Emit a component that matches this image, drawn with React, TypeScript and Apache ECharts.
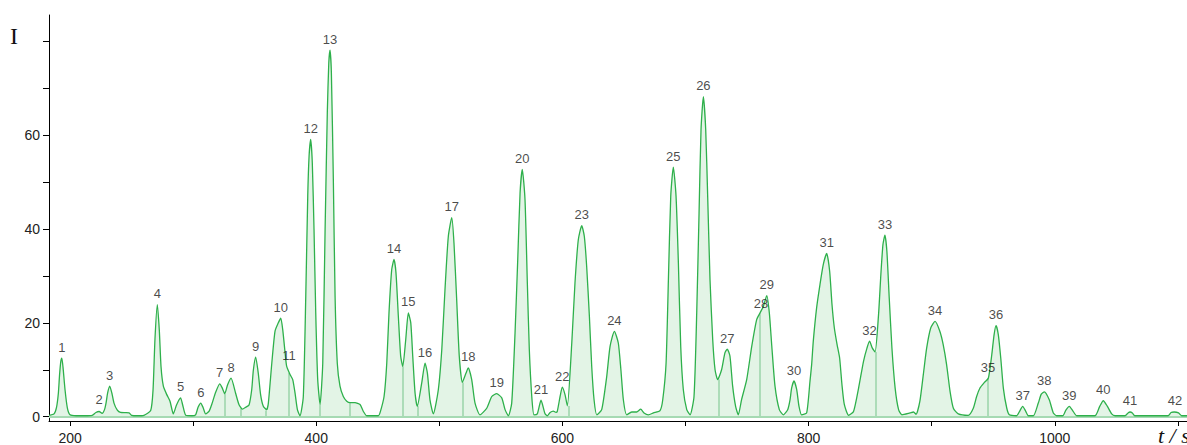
import React, { useEffect, useRef } from "react";
import * as echarts from "echarts";

// retention time (s) and detector intensity
const timeS = [
  183, 187, 189, 190.5, 191.5, 192.5, 193.3, 194.3, 195.9, 197.8, 200, 205, 212, 218, 221, 223.6, 226, 228, 229.3, 230.5,
  232.2, 234, 235.7, 238.4, 241, 245, 248, 250, 255, 260, 265.5, 267.4, 269, 270.9, 272.5, 273.9, 275.8, 278.6, 281.2, 283.9,
  286.5, 289.8, 291.5, 294, 299, 302, 304, 306.2, 308, 310.2, 313, 315.6, 318, 321.6, 323.5, 325.7, 328, 330.8, 334.5, 337.2,
  340, 342.7, 345.4, 347.6, 348.9, 350.8, 352.9, 354.8, 357, 359.7, 361.1, 363.9, 366.5, 369.2, 371.2, 372.8, 374.7, 376,
  378.7, 380.9, 382.8, 384.7, 386.8, 389.5, 391.5, 393.1, 394.2, 395.5, 396.8, 398.2, 399.6, 401.2, 403.1, 405.3, 407.2, 409,
  410.2, 411.2, 412.3, 413.9, 415.3, 417.1, 419.3, 422, 424.8, 427.5, 431.5, 435.6, 438.3, 441, 450.5, 451.8, 455.1, 457.3,
  459.1, 461.3, 463.2, 464.8, 466.7, 468.6, 470.3, 472.7, 474.8, 476.8, 478.4, 480.3, 482.1, 485.7, 488.4, 490.3, 492.4, 495.1,
  499.2, 502, 504.6, 507.3, 510.1, 511.9, 514.1, 516.2, 518.7, 521.7, 523.5, 526.3, 529, 533, 538.5, 542.6, 546.6, 550.7,
  553.4, 556.1, 558.8, 561.5, 563.7, 565.6, 567.4, 569.6, 571.5, 573.1, 575.1, 576.9, 579.6, 582.6, 585.9, 587.8, 590, 592.6,
  594.8, 595.8, 598.1, 599.9, 602.1, 604, 607.6, 610.2, 612.9, 615.7, 617.8, 619.7, 621.9, 623.8, 625.7, 627.9, 631.9, 636,
  638.7, 642.2, 645.4, 647.5, 649.5, 652.2, 656.3, 660.3, 663.6, 666.3, 669.8, 673.9, 679.3, 681.5, 684.2, 686.1, 688, 690.1,
  692.3, 694.2, 696.1, 698.2, 701, 703.7, 706.9, 709.1, 711, 712.6, 714.5, 716.4, 718, 719.9, 722.1, 724, 726.1, 729.3, 732,
  733.9, 736.1, 738.3, 740.7, 742.9, 745.5, 749.7, 753.8, 757.8, 760.5, 763.2, 766, 768.1, 770.1, 772.7, 776.2, 779.5, 783,
  784.9, 786.2, 788.1, 790.3, 792.2, 794.3, 798.4, 801.1, 802.5, 803.8, 806.5, 809.2, 811.9, 814.7, 817.1, 819, 820.9, 823.1,
  825.2, 827.1, 829, 832.5, 836.5, 840.6, 844.6, 847.4, 849.5, 851.8, 854, 856.8, 858.7, 860.4, 862, 863.6, 865.5, 867.7,
  870.3, 873.1, 875.8, 882.4, 885.2, 887.3, 890.4, 893.2, 895.9, 899.2, 902.7, 906.6, 909.3, 912.1, 914.9, 917.6, 921.6, 929.7,
  933.8, 936.5, 939.2, 942.5, 946, 948.8, 950.7, 952.3, 954.1, 956.1, 958.2, 961, 963.1, 969, 971.5, 973.9, 976.3, 978.5,
  982.6, 986.6, 989, 991.5, 995.5, 998.8, 1001.5, 1006.4, 1009, 1011.8, 1014.5, 1017.8, 1032.7, 1036.5, 1039.4, 1042.5, 1046.2,
  1049, 1057, 1059.5, 1061.1, 1063, 1065, 1092, 1094.5, 1097, 1100.5, 1103, 1107.5,
];
const intensity = [
  0.3, 0.6, 2.0, 5.0, 9.0, 11.8, 12.5, 10.5, 5.8, 1.9, 0.4, 0.2, 0.2, 0.3, 0.9, 1.1, 0.7, 1.5, 3.0, 5.0,
  6.5, 5.0, 2.9, 1.4, 0.9, 0.85, 0.8, 0.3, 0.2, 0.3, 1.3, 5.6, 16.6, 23.9, 18.5, 10.7, 6.5, 4.7, 3.3, 0.6,
  2.5, 4.0, 2.5, 0.3, 0.2, 0.4, 2.0, 2.9, 2.0, 0.6, 1.2, 3.0, 5.0, 7.0, 6.2, 4.9, 6.8, 8.2, 5.0, 2.6,
  1.6, 2.0, 2.5, 5.8, 9.9, 12.7, 9.3, 4.7, 2.2, 1.5, 2.9, 11.4, 18.2, 20.0, 21.0, 18.5, 13.6, 10.7,
  9.0, 7.9, 5.0, 1.5, 0.2, 4.3, 25.7, 47.0, 55.6, 59.1, 54.1, 39.9, 22.1, 7.9, 2.6, 11.4, 39.9, 64.8,
  75.4, 78.1, 73.3, 50.5, 25.7, 11.4, 6.5, 4.3, 3.3, 3.0, 3.0, 2.6, 1.1, 0.2, 0.2, 0.8, 4.3, 11.4,
  22.1, 31.3, 33.5, 30.6, 21.4, 12.9, 10.7, 16.4, 22.1, 20.0, 12.9, 5.0, 2.2, 7.2, 11.4, 9.3, 3.6, 0.6,
  5.8, 14.3, 27.1, 38.4, 42.4, 37.0, 24.9, 12.9, 7.3, 9.3, 10.4, 7.9, 2.9, 0.4, 1.8, 4.3, 4.9, 4.0,
  1.5, 0.2, 2.9, 17.8, 33.5, 47.7, 52.7, 46.3, 28.5, 14.3, 4.3, 0.4, 0.6, 3.5, 0.6, 0.2, 0.9, 1.2,
  0.9, 1.1, 4.3, 6.3, 4.7, 2.3, 15.7, 28.5, 37.7, 40.7, 38.4, 32.0, 21.4, 10.7, 3.6, 0.4, 1.5, 8.6,
  15.0, 18.2, 15.7, 10.0, 3.6, 0.4, 1.0, 1.0, 1.6, 0.8, 0.4, 0.8, 1.3, 3.6, 11.4, 29.2, 47.0, 53.2,
  47.0, 32.8, 15.0, 5.8, 1.5, 0.4, 4.3, 22.1, 43.4, 61.2, 68.2, 61.2, 47.0, 29.2, 16.4, 10.0, 7.9, 10.0, 13.6,
  14.4, 12.9, 6.5, 2.2, 0.4, 3.6, 7.9, 15.0, 20.7, 22.1, 23.5, 25.8, 22.1, 15.0, 6.5, 1.5, 0.4, 1.5,
  3.6, 6.1, 7.6, 5.8, 2.2, 0.4, 0.8, 7.5, 11.2, 16.1, 23.2, 28.1, 32.4, 34.8, 31.0, 23.9, 18.9, 15.4,
  12.5, 6.8, 2.6, 0.3, 1.1, 6.1, 11.8, 14.6, 16.1, 14.6, 13.8, 21.7, 30.3, 36.7, 38.7, 35.2, 25.3, 14.6,
  6.1, 1.5, 0.4, 0.8, 1.0, 0.5, 3.3, 9.0, 14.6, 18.9, 20.3, 18.2, 15.4, 11.1, 5.4, 1.8, 0.6, 0.3,
  1.8, 4.3, 6.1, 7.2, 8.2, 13.2, 17.5, 19.4, 17.5, 12.5, 6.1, 1.8, 0.4, 0.2, 1.2, 2.2, 1.2, 0.2,
  0.2, 2.9, 4.8, 5.3, 3.6, 0.8, 0.2, 0.2, 1.4, 2.2, 1.3, 0.2, 0.2, 2.2, 3.4, 2.3, 0.6,
  0.2, 0.2, 0.8, 1.0, 0.8, 0.2, 0.2, 0.9, 1.0, 0.8, 0.2, 0.2,
];

// peak numbers and the point each number sits above
const peakNo = [
  1, 2, 3, 4, 5, 6, 7, 8, 9, 10, 11, 12, 13, 14, 15, 16, 17, 18, 19, 20, 21,
  22, 23, 24, 25, 26, 27, 28, 29, 30, 31, 32, 33, 34, 35, 36, 37, 38, 39, 40, 41, 42,
];
const labelT = [
  193.3, 223.6, 232.2, 270.9, 289.8, 306.2, 321.6, 330.8, 350.8, 371.2, 377.9, 395.5, 411.2, 463.2, 474.8, 488.4,
  510.1, 523.5, 546.6, 567.4, 582.6, 599.9, 615.7, 642.2, 690.1, 714.5, 733.9, 761.3, 766, 788.1, 814.7, 849.5,
  862, 902.7, 945.7, 952.3, 973.9, 991.5, 1011.8, 1039.4, 1061.1, 1097.6,
];
const labelI = [
  12.5, 1.3, 6.5, 23.9, 4.0, 2.9, 7.0, 8.2, 12.7, 21.0, 10.6, 59.1, 78.1, 33.5, 22.1, 11.4,
  42.4, 10.4, 4.9, 52.7, 3.5, 6.3, 40.7, 18.2, 53.2, 68.2, 14.4, 21.7, 25.8, 7.6, 34.8, 16.1,
  38.7, 20.3, 8.1, 19.4, 2.2, 5.3, 2.2, 3.4, 1.0, 1.0,
];

// perpendicular-drop integration lines (time, height at the curve)
const dropT = [325.7, 338.7, 359.2, 377.3, 403.1, 426.9, 470.2, 482.4, 519.0, 604.8, 726.6, 760.5, 854.5, 945.5];
const dropI = [4.9, 1.8, 1.3, 9.3, 2.6, 3.0, 10.7, 2.2, 7.3, 2.3, 7.9, 22.1, 13.8, 8.2];

const xTicks = [200, 300, 400, 500, 600, 700, 800, 900, 1000, 1100];
const xLabels = [200, 400, 600, 800, 1000];
const yTicks = [0, 10, 20, 30, 40, 50, 60, 70, 80];
const yLabels = [0, 20, 40, 60];

const X_MIN = 182.9;
const X_MAX = 1107.4;
const Y_MIN = -0.92;
const Y_MAX = 85.6;

const LINE = "#2eb04b";
const FILL = "#e3f4e6";
const DROP = "#a6dab3";

export default function App() {
  const ref = useRef<HTMLDivElement>(null);

  useEffect(() => {
    if (!ref.current) return;
    const chart = echarts.init(ref.current, undefined, { renderer: "svg" });

    const curve = timeS.map((t, i) => [t, intensity[i]]);
    const labels = labelT.map((t, i) => ({ value: [t, labelI[i]], name: String(peakNo[i]) }));
    const dropData = dropT.map((t, i) => [
      [t, 0],
      [t, dropI[i]],
    ]);

    const axisFont = { fontSize: 14, color: "#222", fontFamily: "'Liberation Sans', Arial, sans-serif" };

    chart.setOption({
      animation: false,
      grid: { left: 49, right: 0, top: 15, bottom: 24, containLabel: false },
      xAxis: {
        type: "value",
        min: X_MIN,
        max: X_MAX,
        axisLine: { show: true, onZero: false, lineStyle: { color: "#000", width: 1 } },
        axisTick: { show: true, customValues: xTicks, length: 5, lineStyle: { color: "#000" } },
        axisLabel: {
          show: true,
          customValues: xLabels,
          margin: 10,
          formatter: (v: number) => String(v),
          ...axisFont,
        },
        splitLine: { show: false },
      },
      yAxis: {
        type: "value",
        min: Y_MIN,
        max: Y_MAX,
        axisLine: { show: true, onZero: false, lineStyle: { color: "#000", width: 1 } },
        axisTick: { show: true, customValues: yTicks, length: 6, lineStyle: { color: "#000" } },
        axisLabel: { show: true, customValues: yLabels, margin: 9, ...axisFont },
        splitLine: { show: false },
      },
      series: [
        {
          type: "line",
          data: curve,
          showSymbol: false,
          symbol: "none",
          smooth: 0.2,
          lineStyle: { color: FILL, width: 0 },
          areaStyle: { color: FILL, opacity: 1, origin: 0 },
          z: 1,
          silent: true,
        },
        {
          type: "lines",
          coordinateSystem: "cartesian2d",
          polyline: false,
          data: [
            ...dropData.map((c) => ({ coords: c })),
            { coords: [[X_MIN, 0], [X_MAX, 0]] },
          ],
          lineStyle: { color: DROP, width: 1.8, opacity: 1 },
          silent: true,
          z: 2,
        },
        {
          type: "line",
          data: curve,
          showSymbol: false,
          symbol: "none",
          smooth: 0.2,
          lineStyle: { color: LINE, width: 1.3 },
          z: 3,
          silent: true,
        },
        {
          type: "scatter",
          data: labels,
          symbolSize: 1,
          itemStyle: { color: "rgba(0,0,0,0)" },
          label: {
            show: true,
            position: "top",
            distance: 4,
            formatter: "{b}",
            fontSize: 13,
            color: "#1a1a1a",
            textBorderWidth: 0,
            fontFamily: "'Liberation Sans', Arial, sans-serif",
          },
          z: 5,
          silent: true,
        },
      ],
      graphic: [
        {
          type: "text",
          left: 10,
          top: 24,
          style: { text: "I", fontSize: 24, fontFamily: "'Liberation Serif', 'Times New Roman', serif", fill: "#111" },
        },
        {
          type: "text",
          left: 1158,
          top: 424,
          style: {
            text: "t / s",
            fontSize: 22,
            fontStyle: "italic",
            fontFamily: "'Liberation Serif', 'Times New Roman', serif",
            fill: "#111",
          },
        },
      ],
    });

    return () => chart.dispose();
  }, []);

  return (
    <div
      ref={ref}
      style={{ position: "fixed", left: 0, top: 0, width: 1187, height: 445, background: "#fff" }}
    />
  );
}
